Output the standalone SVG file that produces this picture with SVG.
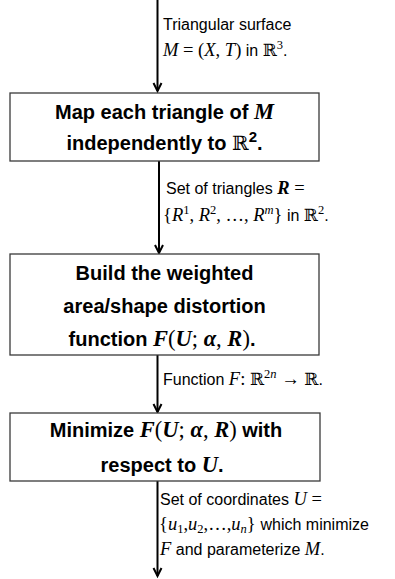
<svg xmlns="http://www.w3.org/2000/svg" width="395" height="579" viewBox="0 0 395 579">
<defs>
<marker id="arr" markerUnits="userSpaceOnUse" markerWidth="12" markerHeight="12" viewBox="-6 -10 12 12" refX="0" refY="0" orient="auto-start-reverse" overflow="visible">
<path d="M-8,-4 L0,0 L-8,4" fill="none" stroke="#000" stroke-width="2" stroke-linejoin="miter"/>
</marker>
<style>
.box{fill:#fff;stroke:#3a3a3a;stroke-width:1.3}
.t{font-family:"Liberation Sans",Arial,sans-serif;font-weight:bold;font-size:20px;fill:#000;text-anchor:middle}
.l{font-family:"Liberation Sans",Arial,sans-serif;font-size:16px;fill:#000}
.m{font-family:"Liberation Serif","Times New Roman",serif;font-style:italic}
.r{font-family:"Liberation Serif","Times New Roman",serif;font-style:normal;font-weight:normal}
.l .m,.l .r{font-size:18.5px}
.t .m,.t .r{font-size:22.5px}
.bb{font-family:"DejaVu Serif",serif;font-style:normal;font-weight:normal}
.l .bb{font-size:17px}
.t .bb{font-size:20px}
.l .s{font-size:12.5px}
.t .s{font-size:15px}
.conn{stroke:#000;stroke-width:2;fill:none}
</style>
</defs>
<g id="connectors">
<line class="conn" x1="157.5" y1="0" x2="157.5" y2="91" marker-end="url(#arr)"/>
<line class="conn" x1="159" y1="161" x2="159" y2="253" marker-end="url(#arr)"/>
<line class="conn" x1="157.5" y1="355" x2="157.5" y2="412" marker-end="url(#arr)"/>
<line class="conn" x1="157.5" y1="481" x2="157.5" y2="576" marker-end="url(#arr)"/>
</g>
<g id="label1">
<text class="l" x="163" y="30">Triangular surface</text>
<text class="l" x="163" y="56"><tspan class="m">M</tspan><tspan class="r"> = (</tspan><tspan class="m">X</tspan><tspan class="r">, </tspan><tspan class="m">T</tspan><tspan class="r">)</tspan> in <tspan class="bb">ℝ</tspan><tspan class="r s" dy="-7">3</tspan><tspan dy="7">.</tspan></text>
</g>
<g id="node1">
<rect class="box" x="10" y="93" width="309" height="68"/>
<text class="t" x="164.5" y="119">Map each triangle of <tspan class="m">M</tspan></text>
<text class="t" x="164.5" y="150">independently to <tspan class="bb">ℝ</tspan><tspan class="s" dy="-8">2</tspan><tspan dy="8">.</tspan></text>
</g>
<g id="label2">
<text class="l" x="166" y="194">Set of triangles <tspan class="m" font-weight="bold">R</tspan><tspan class="r"> =</tspan></text>
<text class="l" x="163" y="221"><tspan class="r">{</tspan><tspan class="m">R</tspan><tspan class="r s" dy="-7">1</tspan><tspan class="r" dy="7">, </tspan><tspan class="m">R</tspan><tspan class="r s" dy="-7">2</tspan><tspan class="r" dy="7">, …, </tspan><tspan class="m">R</tspan><tspan class="m s" dy="-7">m</tspan><tspan class="r" dy="7">}</tspan> in <tspan class="bb">ℝ</tspan><tspan class="r s" dy="-7">2</tspan><tspan dy="7">.</tspan></text>
</g>
<g id="node2">
<rect class="box" x="10" y="254" width="309" height="101"/>
<text class="t" x="164.5" y="280">Build the weighted</text>
<text class="t" x="164.5" y="313">area/shape distortion</text>
<text class="t" x="162" y="346">function <tspan class="m">F</tspan><tspan class="r" font-weight="bold">(</tspan><tspan class="m">U</tspan><tspan class="r" font-weight="bold">; </tspan><tspan class="m">α</tspan><tspan class="r" font-weight="bold">, </tspan><tspan class="m">R</tspan><tspan class="r" font-weight="bold">)</tspan>.</text>
</g>
<g id="label3">
<text class="l" x="163" y="385">Function <tspan class="m">F</tspan><tspan class="r">: </tspan><tspan class="bb">ℝ</tspan><tspan class="r s" dy="-7">2</tspan><tspan class="m s">n</tspan><tspan class="r" dy="7"> → </tspan><tspan class="bb">ℝ</tspan>.</text>
</g>
<g id="node3">
<rect class="box" x="10" y="413" width="310" height="68"/>
<text class="t" x="166" y="437">Minimize <tspan class="m">F</tspan><tspan class="r" font-weight="bold">(</tspan><tspan class="m">U</tspan><tspan class="r" font-weight="bold">; </tspan><tspan class="m">α</tspan><tspan class="r" font-weight="bold">, </tspan><tspan class="m">R</tspan><tspan class="r" font-weight="bold">)</tspan> with</text>
<text class="t" x="162" y="472">respect to <tspan class="m">U</tspan>.</text>
</g>
<g id="label4">
<text class="l" x="160" y="505">Set of coordinates <tspan class="m">U</tspan><tspan class="r"> =</tspan></text>
<text class="l" x="159" y="530"><tspan class="r">{</tspan><tspan class="m">u</tspan><tspan class="r s" dy="3">1</tspan><tspan class="r" dy="-3">,</tspan><tspan class="m">u</tspan><tspan class="r s" dy="3">2</tspan><tspan class="r" dy="-3">,…,</tspan><tspan class="m">u</tspan><tspan class="m s" dy="3">n</tspan><tspan class="r" dy="-3">}</tspan><tspan x="256"> which minimize</tspan></text>
<text class="l" x="160" y="555"><tspan class="m">F</tspan> and parameterize <tspan class="m">M</tspan>.</text>
</g>
</svg>
